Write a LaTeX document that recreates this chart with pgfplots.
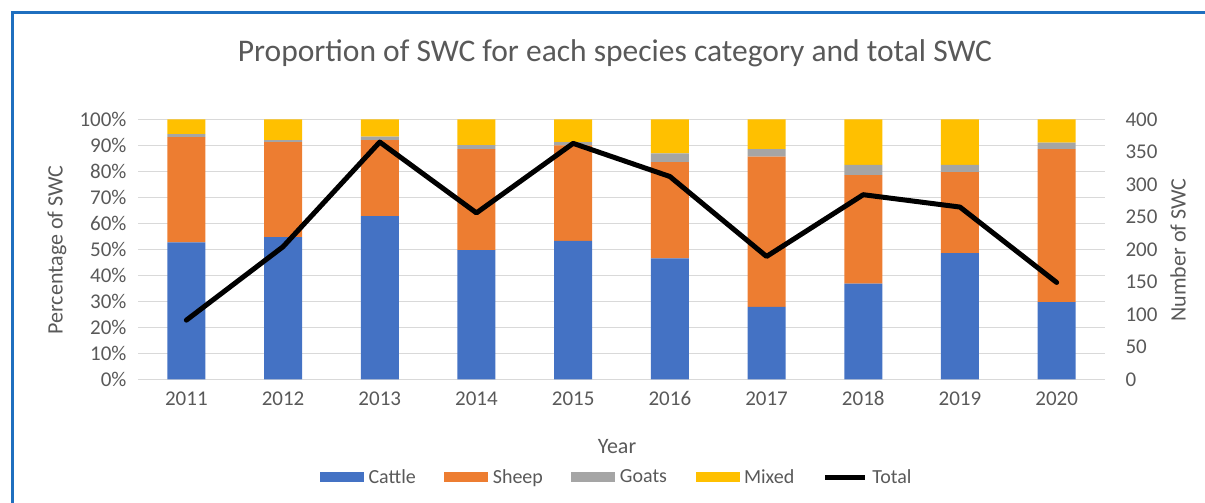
\documentclass[border=0pt]{standalone}
\usepackage{pgfplots}
\pgfplotsset{compat=1.18}
\usepackage{fontspec}
\setmainfont{Carlito}
\definecolor{cattle}{HTML}{4472C4}
\definecolor{sheep}{HTML}{ED7D31}
\definecolor{goats}{HTML}{A5A5A5}
\definecolor{mixed}{HTML}{FFC000}
\definecolor{textc}{HTML}{595959}
\definecolor{gridc}{HTML}{D9D9D9}
\definecolor{framec}{HTML}{1F6FBF}
\newcommand{\tk}{\fontsize{21}{25}\selectfont}
\newcommand{\lgfont}{\fontsize{20}{24}\selectfont}
\pgfplotsset{
  barlegend/.style={legend image code/.code={\fill[##1] (0pt,-5pt) rectangle (44pt,5pt);}},
  linelegend/.style={legend image code/.code={\draw[##1] (0pt,0pt) -- (40pt,0pt);}},
}
\begin{document}
\begin{tikzpicture}
\path[use as bounding box] (0pt,0pt) rectangle (1205pt,-503pt);
\draw[framec, line width=3pt] (12pt,-504pt) -- (12pt,-13pt) -- (1206pt,-13pt);
\begin{axis}[
  at={(138pt,-379.3pt)}, anchor=south west,
  width=967pt, height=260pt, scale only axis,
  ybar stacked, bar width=38pt,
  xmin=-0.5, xmax=9.5, ymin=0, ymax=100,
  xtick={0,...,9},
  xticklabels={2011,2012,2013,2014,2015,2016,2017,2018,2019,2020},
  ytick={0,10,...,100},
  yticklabel={\pgfmathprintnumber{\tick}\%},
  /pgf/number format/assume math mode=true,
  axis x line*=bottom, axis y line*=left,
  x axis line style={draw=gridc, line width=1pt, -},
  y axis line style={draw=none},
  ymajorgrids, grid style={draw=gridc, line width=1pt},
  major tick length=0pt,
  tick label style={font=\tk, text=textc},
  yticklabel style={xshift=-8pt},
  xticklabel style={yshift=-9pt, text height=13.5pt, text depth=0pt},
  legend columns=5,
  legend style={at={(0.4964,-0.3758)}, anchor=center, draw=none, fill=none,
    font=\lgfont, text=textc,
    /tikz/every even column/.append style={column sep=24pt},
    nodes={inner sep=4.5pt}},
  legend cell align=left,
]
\addplot[fill=cattle, draw=none, barlegend] coordinates {(0,52.7)(1,54.7)(2,62.8)(3,49.7)(4,53.2)(5,46.5)(6,27.9)(7,36.8)(8,48.5)(9,29.7)};
\addlegendentry{Cattle}
\addplot[fill=sheep, draw=none, barlegend] coordinates {(0,40.4)(1,36.5)(2,29.2)(3,38.8)(4,36.8)(5,37.0)(6,57.7)(7,41.7)(8,31.2)(9,58.8)};
\addlegendentry{Sheep}
\addplot[fill=goats, draw=none, barlegend] coordinates {(0,1.2)(1,0.8)(2,1.3)(3,1.6)(4,1.2)(5,3.4)(6,2.9)(7,4.0)(8,2.8)(9,2.5)};
\addlegendentry{Goats}
\addplot[fill=mixed, draw=none, barlegend] coordinates {(0,5.7)(1,8.0)(2,6.7)(3,9.9)(4,8.8)(5,13.1)(6,11.5)(7,17.5)(8,17.5)(9,9.0)};
\addlegendentry{Mixed}
\addlegendimage{black, line width=5pt, linelegend}
\addlegendentry{Total}
\end{axis}
\begin{axis}[
  at={(138pt,-379.3pt)}, anchor=south west,
  width=967pt, height=260pt, scale only axis,
  xmin=-0.5, xmax=9.5, ymin=0, ymax=400,
  axis x line=none, axis y line*=right,
  y axis line style={draw=none},
  ytick={0,50,...,400},
  /pgf/number format/assume math mode=true,
  major tick length=0pt,
  tick label style={font=\tk, text=textc},
  yticklabel style={xshift=17pt},
]
\addplot[black, line width=5pt, line cap=round, line join=round] coordinates {(0,91)(1,204)(2,365)(3,256)(4,363)(5,312)(6,189)(7,284)(8,265)(9,149)};
\end{axis}
\node[font=\fontsize{31.5}{36}\selectfont, text=textc] at (615pt,-53pt) {Proportion of SWC for each species category and total SWC};
\node[font=\fontsize{22}{26}\selectfont, text=textc] at (617pt,-447pt) {Year};
\node[font=\fontsize{22}{26}\selectfont, text=textc, rotate=90] at (57pt,-250pt) {Percentage of SWC};
\node[font=\fontsize{22}{26}\selectfont, text=textc, rotate=90] at (1178pt,-250pt) {Number of SWC};
\end{tikzpicture}
\end{document}
